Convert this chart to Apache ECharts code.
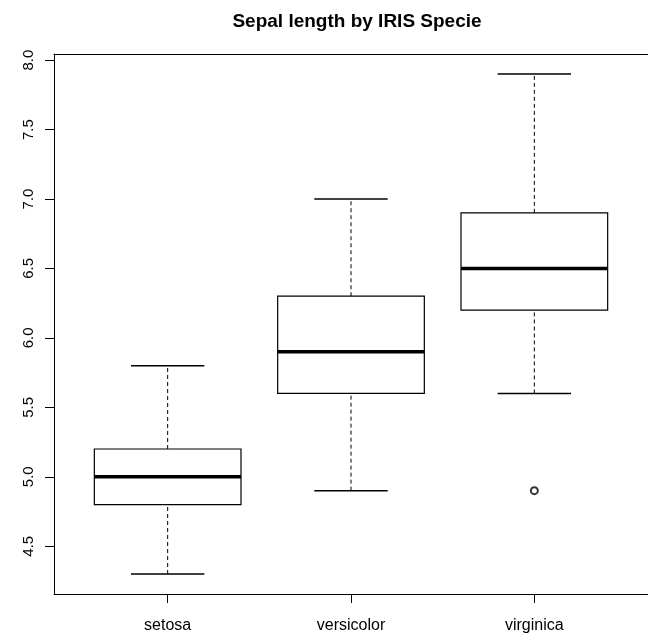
<!DOCTYPE html>
<html><head><meta charset="utf-8">
<script src="https://cdn.jsdelivr.net/npm/echarts@6/dist/echarts.min.js"></script>
<style>html,body{margin:0;padding:0;background:#fff}#c{width:648px;height:634px}</style>
</head><body><div id="c"></div>
<script>
var categories = ['setosa', 'versicolor', 'virginica'];
var whiskerLow = [4.3, 4.9, 5.6];
var q1 = [4.8, 5.6, 6.2];
var median = [5.0, 5.9, 6.5];
var q3 = [5.2, 6.3, 6.9];
var whiskerHigh = [5.8, 7.0, 7.9];
var outliers = [[3, 4.9]];
var yTicks = [4.5, 5.0, 5.5, 6.0, 6.5, 7.0, 7.5, 8.0];
var title = 'Sepal length by IRIS Specie';

var boxData = categories.map(function (c, i) {
  return [i + 1, whiskerLow[i], q1[i], median[i], q3[i], whiskerHigh[i]];
});

var chart = echarts.init(document.getElementById('c'), null, {renderer: 'canvas'});
var FONT = 'Liberation Sans, Arial, sans-serif';
chart.setOption({
  animation: false,
  title: {
    text: title, left: 352, top: 7, textAlign: 'center',
    textStyle: {fontFamily: FONT, fontSize: 19, fontWeight: 'bold', color: '#000'}
  },
  grid: {left: 54, right: -2, top: 54, bottom: 40, show: false},
  xAxis: [{
    type: 'value', min: 0.38, max: 3.62,
    axisLine: {show: true, lineStyle: {color: '#000', width: 1}},
    axisTick: {show: true, customValues: [1, 2, 3], length: 9, lineStyle: {color: '#000'}},
    axisLabel: {customValues: [1, 2, 3], margin: 24, fontFamily: FONT, fontSize: 16, color: '#000',
      formatter: function (v) { return categories[Math.round(v) - 1] || ''; }},
    splitLine: {show: false}
  }, {
    type: 'value', position: 'top', min: 0.38, max: 3.62,
    axisLine: {show: true, lineStyle: {color: '#000', width: 1}},
    axisTick: {show: false}, axisLabel: {show: false}, splitLine: {show: false}
  }],
  yAxis: {
    type: 'value', min: 4.156, max: 8.044,
    axisLine: {show: true, lineStyle: {color: '#000', width: 1}},
    axisTick: {show: true, customValues: yTicks, length: 9, lineStyle: {color: '#000'}},
    axisLabel: {customValues: yTicks, rotate: 90, margin: 18, fontFamily: FONT, fontSize: 15, color: '#000',
      formatter: function (v) { return v.toFixed(1); }},
    splitLine: {show: false}
  },
  series: [{
    type: 'custom',
    data: boxData,
    encode: {x: 0, y: [1, 2, 3, 4, 5]},
    renderItem: function (params, api) {
      var x = api.value(0);
      var lo = api.value(1), a = api.value(2), m = api.value(3), b = api.value(4), hi = api.value(5);
      var L = api.coord([x - 0.4, a]), R = api.coord([x + 0.4, b]);
      var cL = api.coord([x - 0.2, lo])[0], cR = api.coord([x + 0.2, lo])[0];
      var cx = api.coord([x, m])[0];
      var yLo = api.coord([x, lo])[1], yA = api.coord([x, a])[1], yM = api.coord([x, m])[1];
      var yB = api.coord([x, b])[1], yHi = api.coord([x, hi])[1];
      var dash = {stroke: '#000', lineWidth: 1, lineDash: [4, 3]};
      var solid = {stroke: '#000', lineWidth: 1.5};
      return {type: 'group', children: [
        {type: 'line', shape: {x1: cx, y1: yB, x2: cx, y2: yHi}, style: dash},
        {type: 'line', shape: {x1: cx, y1: yLo, x2: cx, y2: yA}, style: dash},
        {type: 'line', shape: {x1: cL, y1: yHi, x2: cR, y2: yHi}, style: solid},
        {type: 'line', shape: {x1: cL, y1: yLo, x2: cR, y2: yLo}, style: solid},
        {type: 'rect', shape: {x: L[0], y: yB, width: R[0] - L[0], height: yA - yB},
          style: {fill: '#fff', stroke: '#000', lineWidth: 1.2}},
        {type: 'line', shape: {x1: L[0], y1: yM, x2: R[0], y2: yM}, style: {stroke: '#000', lineWidth: 3.5}}
      ]};
    }
  }, {
    type: 'scatter',
    data: outliers,
    symbol: 'emptyCircle',
    symbolSize: 7,
    z: 5,
    itemStyle: {color: '#000', borderColor: '#000', borderWidth: 1}
  }]
});
</script></body></html>
